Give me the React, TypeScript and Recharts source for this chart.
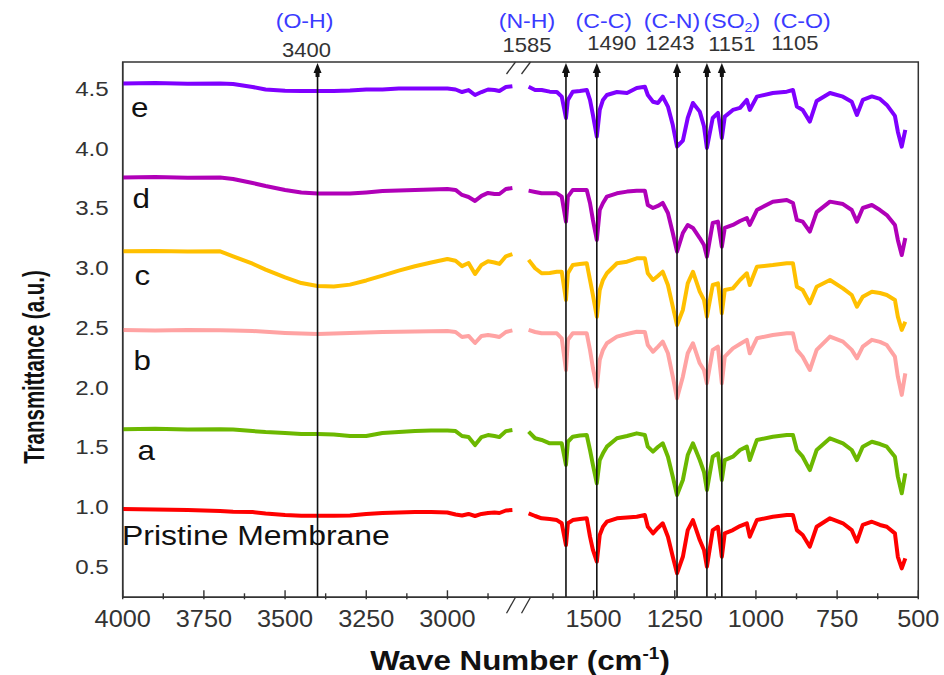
import React from 'react';
import { LineChart, Line, XAxis, YAxis, ReferenceLine, ReferenceArea } from 'recharts';

const FONT = '"Liberation Sans", Arial, Helvetica, sans-serif';

// wave numbers (cm-1) sampled on the O-H / C-H panel and on the fingerprint panel
const leftWaves = [4000, 3900, 3800, 3700, 3660, 3600, 3560, 3500, 3450, 3400, 3350, 3300, 3250, 3200, 3150, 3100, 3050, 3000, 2975, 2955, 2935, 2915, 2895, 2875, 2855, 2840, 2820, 2800];
const rightWaves = [1700, 1680, 1660, 1635, 1613, 1598, 1585, 1579, 1564, 1542, 1521, 1511, 1502, 1490, 1481, 1471, 1459, 1428, 1397, 1367, 1342, 1333, 1317, 1302, 1287, 1271, 1256, 1243, 1225, 1210, 1194, 1173, 1160, 1151, 1133, 1117, 1105, 1096, 1071, 1049, 1028, 1019, 997, 948, 905, 886, 874, 856, 834, 813, 772, 732, 705, 689, 671, 643, 618, 597, 572, 563, 551, 540];

// stacked transmittance spectra (a.u.)
const pristineLeft = [0.968, 0.964, 0.96, 0.952, 0.946, 0.943, 0.931, 0.918, 0.912, 0.912, 0.912, 0.914, 0.927, 0.935, 0.939, 0.943, 0.943, 0.939, 0.922, 0.914, 0.927, 0.91, 0.927, 0.935, 0.939, 0.935, 0.956, 0.96];
const pristineRight = [0.932, 0.91, 0.891, 0.885, 0.876, 0.849, 0.667, 0.849, 0.876, 0.885, 0.891, 0.737, 0.626, 0.528, 0.751, 0.82, 0.862, 0.891, 0.897, 0.904, 0.918, 0.82, 0.765, 0.81, 0.849, 0.737, 0.569, 0.431, 0.569, 0.792, 0.876, 0.709, 0.626, 0.486, 0.792, 0.82, 0.569, 0.765, 0.792, 0.826, 0.849, 0.737, 0.876, 0.904, 0.918, 0.918, 0.792, 0.751, 0.653, 0.82, 0.891, 0.849, 0.792, 0.695, 0.835, 0.862, 0.835, 0.82, 0.765, 0.569, 0.472, 0.556];
const aLeft = [1.636, 1.64, 1.634, 1.636, 1.633, 1.62, 1.612, 1.604, 1.595, 1.595, 1.591, 1.579, 1.579, 1.604, 1.612, 1.62, 1.625, 1.625, 1.62, 1.579, 1.57, 1.503, 1.57, 1.587, 1.579, 1.57, 1.62, 1.629];
const aRight = [1.615, 1.56, 1.546, 1.518, 1.518, 1.518, 1.337, 1.531, 1.573, 1.583, 1.587, 1.462, 1.337, 1.183, 1.378, 1.434, 1.49, 1.56, 1.579, 1.601, 1.587, 1.49, 1.448, 1.487, 1.518, 1.406, 1.239, 1.086, 1.211, 1.42, 1.518, 1.378, 1.278, 1.127, 1.406, 1.434, 1.211, 1.378, 1.406, 1.462, 1.49, 1.378, 1.546, 1.573, 1.587, 1.587, 1.462, 1.406, 1.294, 1.462, 1.56, 1.518, 1.462, 1.378, 1.49, 1.531, 1.512, 1.49, 1.406, 1.239, 1.1, 1.267];
const bLeft = [2.466, 2.462, 2.466, 2.463, 2.462, 2.457, 2.45, 2.441, 2.436, 2.432, 2.436, 2.441, 2.445, 2.449, 2.451, 2.453, 2.455, 2.457, 2.449, 2.407, 2.416, 2.357, 2.416, 2.424, 2.416, 2.407, 2.449, 2.462];
const bRight = [2.466, 2.449, 2.438, 2.438, 2.438, 2.396, 2.131, 2.383, 2.438, 2.438, 2.438, 2.299, 2.148, 1.991, 2.215, 2.299, 2.355, 2.41, 2.432, 2.451, 2.449, 2.34, 2.284, 2.324, 2.368, 2.271, 2.075, 1.894, 2.075, 2.271, 2.355, 2.187, 2.131, 2.02, 2.299, 2.326, 2.02, 2.242, 2.312, 2.348, 2.383, 2.271, 2.396, 2.424, 2.438, 2.438, 2.299, 2.242, 2.131, 2.299, 2.41, 2.368, 2.299, 2.229, 2.326, 2.383, 2.366, 2.34, 2.242, 2.075, 1.923, 2.103];
const cLeft = [3.124, 3.127, 3.122, 3.124, 3.082, 3.02, 2.97, 2.905, 2.858, 2.834, 2.83, 2.845, 2.88, 2.92, 2.962, 2.999, 3.03, 3.06, 3.045, 3.0, 3.026, 2.934, 3.01, 3.04, 3.03, 3.018, 3.082, 3.1];
const cRight = [3.052, 2.982, 2.94, 2.943, 2.953, 2.953, 2.717, 2.94, 3.009, 3.017, 3.024, 2.884, 2.758, 2.577, 2.8, 2.884, 2.94, 3.024, 3.037, 3.065, 3.065, 2.94, 2.884, 2.917, 2.953, 2.842, 2.661, 2.508, 2.633, 2.856, 2.953, 2.786, 2.717, 2.577, 2.842, 2.856, 2.605, 2.8, 2.814, 2.884, 2.94, 2.842, 2.995, 3.009, 3.024, 3.024, 2.828, 2.8, 2.689, 2.828, 2.884, 2.814, 2.758, 2.661, 2.744, 2.786, 2.775, 2.758, 2.717, 2.577, 2.466, 2.535];
const dLeft = [3.741, 3.745, 3.738, 3.741, 3.729, 3.695, 3.67, 3.637, 3.616, 3.607, 3.607, 3.607, 3.616, 3.628, 3.633, 3.637, 3.641, 3.645, 3.637, 3.595, 3.578, 3.545, 3.587, 3.612, 3.603, 3.603, 3.645, 3.653];
const dRight = [3.631, 3.62, 3.609, 3.609, 3.609, 3.581, 3.372, 3.581, 3.637, 3.637, 3.637, 3.528, 3.386, 3.219, 3.469, 3.528, 3.581, 3.609, 3.623, 3.631, 3.631, 3.511, 3.486, 3.503, 3.528, 3.444, 3.277, 3.121, 3.277, 3.344, 3.319, 3.235, 3.177, 3.079, 3.361, 3.372, 3.163, 3.319, 3.344, 3.377, 3.402, 3.344, 3.469, 3.539, 3.553, 3.528, 3.386, 3.372, 3.288, 3.452, 3.539, 3.519, 3.469, 3.372, 3.486, 3.511, 3.469, 3.427, 3.344, 3.219, 3.093, 3.235];
const eLeft = [4.528, 4.531, 4.526, 4.528, 4.523, 4.498, 4.477, 4.466, 4.465, 4.465, 4.465, 4.469, 4.477, 4.477, 4.486, 4.486, 4.486, 4.486, 4.477, 4.456, 4.472, 4.431, 4.456, 4.477, 4.473, 4.465, 4.498, 4.505];
const eRight = [4.5, 4.473, 4.473, 4.459, 4.456, 4.417, 4.239, 4.39, 4.459, 4.465, 4.473, 4.39, 4.264, 4.083, 4.306, 4.39, 4.431, 4.456, 4.448, 4.49, 4.5, 4.431, 4.375, 4.364, 4.417, 4.334, 4.18, 3.999, 4.05, 4.239, 4.364, 4.292, 4.17, 3.988, 4.239, 4.281, 4.072, 4.25, 4.306, 4.323, 4.39, 4.306, 4.417, 4.448, 4.459, 4.473, 4.334, 4.306, 4.208, 4.381, 4.448, 4.417, 4.375, 4.264, 4.39, 4.419, 4.398, 4.348, 4.256, 4.124, 3.999, 4.139];

const yTicks = [0.5, 1.0, 1.5, 2.0, 2.5, 3.0, 3.5, 4.0, 4.5];
const tickWaves = [4000, 3875, 3750, 3625, 3500, 3375, 3250, 3125, 3000, 2875, 1625, 1500, 1375, 1250, 1125, 1000, 875, 750, 625, 500];

// assigned absorption bands
const bandWaves = [3400, 1585, 1490, 1243, 1151, 1105];
const bandNames = ['(O-H)', '(N-H)', '(C-C)', '(C-N)', '(SO2)', '(C-O)'];
// labels are spread out so they don't collide over the close bands
const bandNameDx = [-13, -39, 7, -5, 25, 80];
const bandValueDx = [-11, -39, 15, -7, 25, 73];
const bandValueY = [57, 52, 50, 50, 51, 50];

const series = [
  { key: 'pristine', color: '#ff0000', left: pristineLeft, right: pristineRight },
  { key: 'a', color: '#6cb800', left: aLeft, right: aRight },
  { key: 'b', color: '#ffa3a3', left: bLeft, right: bRight },
  { key: 'c', color: '#ffc000', left: cLeft, right: cRight },
  { key: 'd', color: '#b000b8', left: dLeft, right: dRight },
  { key: 'e', color: '#7f00ff', left: eLeft, right: eRight },
];

// the axis skips 2785..1735 cm-1; t is the position along the broken axis
const GAP = 1050;
const BREAK_AT = 1225;
const X_MAX = 2450;
const toAxis = (w: number) => (w > 2000 ? 4000 - w : 4000 - GAP - w);
const fromAxis = (t: number) => (t <= BREAK_AT ? 4000 - t : 4000 - GAP - t);

const rows = [
  ...leftWaves.map((w, i) => {
    const r: Record<string, number> = { t: toAxis(w) };
    series.forEach((s) => (r[s.key] = s.left[i]));
    return r;
  }),
  { t: BREAK_AT },
  ...rightWaves.map((w, i) => {
    const r: Record<string, number> = { t: toAxis(w) };
    series.forEach((s) => (r[s.key] = s.right[i]));
    return r;
  }),
];

function WaveTick({ x, y, payload }: any) {
  const w = Math.round(fromAxis(payload.value));
  const major = w % 250 === 0;
  return (
    <g>
      <line x1={x} x2={x} y1={y} y2={y - (major ? 9 : 6)} stroke="#333" strokeWidth={1.4} />
      {major && (
        <text transform={`translate(${x},${y + 28}) scale(1.1,1)`} textAnchor="middle" fontSize={23} fill="#333" fontFamily={FONT}>
          {w}
        </text>
      )}
    </g>
  );
}

function TransTick({ x, y, payload }: any) {
  return (
    <text transform={`translate(${x},${y + 9}) scale(1.15,1)`} textAnchor="end" fontSize={21} fill="#333" fontFamily={FONT}>
      {payload.value.toFixed(1)}
    </text>
  );
}

function BandMarker({ x1, y1, y2, index }: any) {
  const top = Math.min(y1, y2);
  const bottom = Math.max(y1, y2);
  const name = bandNames[index];
  const nx = x1 + bandNameDx[index];
  const vx = x1 + bandValueDx[index];
  return (
    <g>
      <line x1={x1} x2={x1} y1={bottom} y2={top + 10} stroke="#111" strokeWidth={1.6} />
      <polygon points={`${x1},${top + 1} ${x1 - 4},${top + 11} ${x1 + 4},${top + 11}`} fill="#111" />
      <rect x={x1 - 2} y={top + 10} width={4} height={5} fill="#111" />
      <text transform={`translate(${nx},28) scale(1.1,1)`} textAnchor="middle" fontSize={21} fill="#3b3bff" fontFamily={FONT}>
        {name === '(SO2)' ? (
          <>
            (SO<tspan fontSize={13} dy={4}>2</tspan>
            <tspan dy={-4}>)</tspan>
          </>
        ) : (
          name
        )}
      </text>
      <text transform={`translate(${vx},${bandValueY[index]}) scale(1.1,1)`} textAnchor="middle" fontSize={20} fill="#333" fontFamily={FONT}>
        {bandWaves[index]}
      </text>
    </g>
  );
}

function BreakMarks({ x1, y1, y2 }: any) {
  const top = Math.min(y1, y2);
  const bottom = Math.max(y1, y2);
  const slash = (x0: number, y0: number, h: number) => (
    <line key={`${x0}-${y0}`} x1={x0} y1={y0 + h} x2={x0 + 9} y2={y0} stroke="#333" strokeWidth={1.3} />
  );
  return (
    <g>
      {slash(x1 - 14, top, 12)}
      {slash(x1 + 1, top, 12)}
      {slash(x1 - 14, bottom, 16)}
      {slash(x1 + 1, bottom, 16)}
    </g>
  );
}

const letters = [
  { text: 'e', x: 131, y: 117 },
  { text: 'd', x: 132.5, y: 208 },
  { text: 'c', x: 134.5, y: 285 },
  { text: 'b', x: 133.5, y: 370 },
  { text: 'a', x: 137.5, y: 460 },
  { text: 'Pristine Membrane', x: 122, y: 545 },
];

export default function App() {
  return (
    <div style={{ position: 'absolute', left: 0, top: 0, width: 944, height: 675, background: '#fff' }}>
      <LineChart width={944} height={675} data={rows} margin={{ top: 62, right: 25.7, left: 62.7, bottom: 37.7 }}>
        <XAxis
          dataKey="t"
          type="number"
          domain={[0, X_MAX]}
          ticks={tickWaves.map(toAxis)}
          interval={0}
          tickSize={0}
          tickLine={false}
          tick={<WaveTick />}
          axisLine={{ stroke: '#333', strokeWidth: 1.5 }}
          height={40}
        />
        <YAxis
          type="number"
          domain={[0.23, 4.707]}
          ticks={yTicks}
          interval={0}
          tickSize={0}
          tickMargin={14}
          tickLine={false}
          tick={<TransTick />}
          axisLine={{ stroke: '#333', strokeWidth: 1.5 }}
          width={60}
        />
        <ReferenceArea x1={0} x2={X_MAX} y1={0.23} y2={4.707} fill="none" stroke="#333" strokeWidth={1.5} />
        {series.map((s) => (
          <Line
            key={s.key}
            type="linear"
            dataKey={s.key}
            stroke={s.color}
            strokeWidth={4}
            strokeLinejoin="round"
            dot={false}
            activeDot={false}
            connectNulls={false}
            isAnimationActive={false}
          />
        ))}
        <ReferenceLine x={BREAK_AT} stroke="none" shape={(p: any) => <BreakMarks {...p} />} />
        {bandWaves.map((w, i) => (
          <ReferenceLine key={w} x={toAxis(w)} shape={(p: any) => <BandMarker {...p} index={i} />} />
        ))}
      </LineChart>
      <svg width={944} height={675} style={{ position: 'absolute', left: 0, top: 0, pointerEvents: 'none' }}>
        {letters.map((l) => (
          <text
            key={l.text}
            transform={`translate(${l.x},${l.y}) scale(${l.text.length > 1 ? 1.14 : 1.12},1)`}
            fontSize={28}
            fill="#111"
            fontFamily={FONT}
          >
            {l.text}
          </text>
        ))}
        <text transform="translate(520,670) scale(1.12,1)" textAnchor="middle" fontSize={28} fontWeight="bold" fill="#111" fontFamily={FONT}>
          Wave Number (cm<tspan fontSize={17} dy={-11}>-1</tspan>
          <tspan dy={11}>)</tspan>
        </text>
        <text
          transform="translate(34,367) scale(1.4,1) rotate(-90)"
          textAnchor="middle"
          dominantBaseline="central"
          fontSize={20.5}
          fontWeight="bold"
          fill="#111"
          fontFamily={FONT}
        >
          Transmittance (a.u.)
        </text>
      </svg>
    </div>
  );
}
